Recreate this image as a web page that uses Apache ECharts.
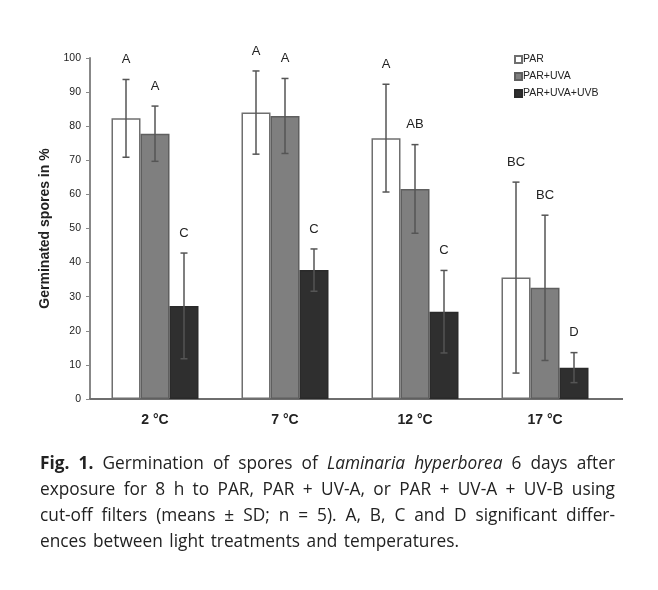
<!DOCTYPE html>
<html>
<head>
<meta charset="utf-8">
<script src="https://cdn.jsdelivr.net/npm/echarts@6/dist/echarts.min.js"></script>
<style>
html,body{margin:0;padding:0;background:#fff;}
#chart{position:absolute;left:0;top:0;width:658px;height:590px;}
#cap{position:absolute;left:40px;top:450px;width:575px;font-family:"Open Sans",sans-serif;font-size:17.3px;line-height:26px;color:#222;}
#cap div{text-align:justify;text-align-last:justify;white-space:nowrap;}
#cap div.last{text-align:left;text-align-last:left;word-spacing:2px;}
</style>
</head>
<body>
<div id="chart"></div>
<div id="cap">
<div><b>Fig. 1.</b> Germination of spores of <i>Laminaria hyperborea</i> 6&nbsp;days after</div>
<div>exposure for 8&nbsp;h to PAR, PAR + UV-A, or PAR + UV-A + UV-B using</div>
<div>cut-off filters (means ± SD; n = 5). A, B, C and D significant differ-</div>
<div class="last">ences between light treatments and temperatures.</div>
</div>
<script>
const categories = ['2 °C', '7 °C', '12 °C', '17 °C'];
const seriesNames = ['PAR', 'PAR+UVA', 'PAR+UVA+UVB'];
const parMean = [82.3, 84.0, 76.5, 35.6];
const parSD = [11.4, 12.2, 15.8, 28.0];
const parLetters = ['A', 'A', 'A', 'BC'];
const uvaMean = [77.8, 83.0, 61.6, 32.6];
const uvaSD = [8.1, 11.0, 13.0, 21.3];
const uvaLetters = ['A', 'A', 'AB', 'BC'];
const uvbMean = [27.3, 37.8, 25.6, 9.2];
const uvbSD = [15.5, 6.2, 12.1, 4.4];
const uvbLetters = ['C', 'C', 'C', 'D'];
const yTicks = [0, 10, 20, 30, 40, 50, 60, 70, 80, 90, 100];

const means = [parMean, uvaMean, uvbMean];
const sds = [parSD, uvaSD, uvbSD];
const letters = [parLetters, uvaLetters, uvbLetters];
const fills = ['#ffffff', '#7f7f7f', '#2f2f2f'];
const borders = ['#6f6f6f', '#5f5f5f', '#2a2a2a'];
const BAR_W = 29;
const FONT = '"Liberation Sans", Arial, sans-serif';

const chart = echarts.init(document.getElementById('chart'));
const series = [];
seriesNames.forEach((name, s) => {
  series.push({
    name: name, type: 'bar', barWidth: BAR_W, barGap: '0%',
    data: means[s],
    itemStyle: { color: fills[s], borderColor: borders[s], borderWidth: 1.5 },
    z: 2
  });
});
seriesNames.forEach((name, s) => {
  series.push({
    type: 'custom', name: name + ' err', silent: true, z: 5,
    data: means[s].map((m, i) => [i, m, sds[s][i]]),
    renderItem: function (params, api) {
      const i = api.value(0), m = api.value(1), sd = api.value(2);
      const lab = letters[s][params.dataIndex];
      const c = api.coord([i, m]);
      const x = c[0] + (s - 1) * BAR_W;
      const top = api.coord([i, m + sd])[1];
      const bot = api.coord([i, m - sd])[1];
      const st = { stroke: '#555', lineWidth: 1.5 };
      const cw = 3.5;
      return {
        type: 'group',
        children: [
          { type: 'line', shape: { x1: x, y1: top, x2: x, y2: bot }, style: st },
          { type: 'line', shape: { x1: x - cw, y1: top, x2: x + cw, y2: top }, style: st },
          { type: 'line', shape: { x1: x - cw, y1: bot, x2: x + cw, y2: bot }, style: st },
          { type: 'text', x: x, y: top - 20, style: { text: lab, fill: '#222', font: '13px ' + FONT, align: 'center', verticalAlign: 'middle' } }
        ]
      };
    }
  });
});

chart.setOption({
  animation: false,
  backgroundColor: '#fff',
  grid: { left: 90, top: 58, width: 520, height: 341 },
  legend: {
    orient: 'vertical', left: 514, top: 54, padding: 0, itemWidth: 7, itemHeight: 7, itemGap: 6,
    icon: 'rect',
    data: seriesNames,
    textStyle: { fontFamily: FONT, fontSize: 10.5, lineHeight: 10, color: '#222', padding: [0, 0, 0, -4] }
  },
  xAxis: {
    type: 'category', data: categories,
    axisLine: { lineStyle: { color: '#6e6e6e', width: 2 } },
    axisTick: { show: false },
    axisLabel: { margin: 14, fontFamily: FONT, fontSize: 14, fontWeight: 'bold', color: '#222' }
  },
  yAxis: {
    type: 'value', min: 0, max: 100, interval: 10,
    name: 'Germinated spores in %', nameLocation: 'middle', nameGap: 37,
    nameTextStyle: { fontFamily: FONT, fontSize: 14, fontWeight: 'bold', color: '#222' },
    axisLine: { show: true, lineStyle: { color: '#888', width: 2 } },
    axisTick: { show: true, length: 4, lineStyle: { color: '#888' } },
    splitLine: { show: false },
    axisLabel: { margin: 9, fontFamily: FONT, fontSize: 10.5, color: '#222',
      formatter: v => yTicks.indexOf(v) >= 0 ? String(v) : '' }
  },
  graphic: [{ type: 'line', shape: { x1: 610, y1: 399, x2: 623, y2: 399 }, style: { stroke: '#6e6e6e', lineWidth: 2 } }],
  series: series
});
</script>
</body>
</html>
